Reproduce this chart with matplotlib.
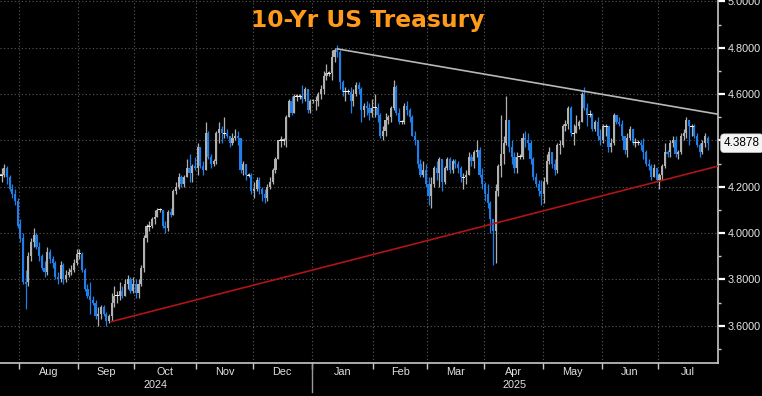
import numpy as np
import pandas as pd
import matplotlib
matplotlib.use("Agg")
import matplotlib.pyplot as plt
import matplotlib.transforms as mtransforms
from matplotlib.ticker import FixedLocator, FuncFormatter

# daily bars of the 10y yield, weekdays 23 Jul 2024 .. 25 Jul 2025 (one month per line)
opens = [
    4.25, 4.25, 4.28, 4.24, 4.19, 4.17, 4.14,
    4.04, 3.98, 3.79, 3.79, 3.90, 3.96, 3.99, 3.94, 3.90, 3.85, 3.83, 3.92, 3.89, 3.87, 3.81, 3.80, 3.86, 3.80, 3.82, 3.83, 3.84, 3.87,
    3.91, 3.91, 3.84, 3.76, 3.73, 3.71, 3.70, 3.64, 3.65, 3.68, 3.65, 3.62, 3.64, 3.70, 3.73, 3.73, 3.75, 3.73, 3.78, 3.80, 3.75,
    3.78, 3.74, 3.78, 3.85, 3.98, 4.03, 4.03, 4.06, 4.07, 4.10, 4.10, 4.03, 4.02, 4.09, 4.08, 4.18, 4.20, 4.24, 4.21, 4.24, 4.28, 4.26, 4.29,
    4.28, 4.37, 4.29, 4.27, 4.43, 4.33, 4.30, 4.31, 4.43, 4.45, 4.43, 4.43, 4.42, 4.39, 4.41, 4.42, 4.41, 4.27, 4.30, 4.25, 4.25,
    4.18, 4.19, 4.23, 4.19, 4.17, 4.15, 4.20, 4.22, 4.27, 4.32, 4.40, 4.40, 4.40, 4.50, 4.57, 4.52, 4.59, 4.59, 4.59, 4.58, 4.62, 4.53,
    4.57, 4.57, 4.57, 4.60, 4.62, 4.68, 4.69, 4.69, 4.76, 4.79, 4.78, 4.65, 4.61, 4.61, 4.61, 4.57, 4.60, 4.64, 4.62, 4.53, 4.55, 4.54, 4.52,
    4.54, 4.54, 4.51, 4.42, 4.44, 4.49, 4.50, 4.54, 4.63, 4.52, 4.48, 4.48, 4.55, 4.53, 4.50, 4.42, 4.40, 4.30, 4.25, 4.27,
    4.21, 4.16, 4.21, 4.28, 4.26, 4.32, 4.22, 4.28, 4.32, 4.27, 4.31, 4.30, 4.28, 4.24, 4.24, 4.25, 4.33, 4.31, 4.35, 4.36, 4.25,
    4.21, 4.17, 4.13, 4.06, 4.01, 4.18, 4.29, 4.34, 4.39, 4.49, 4.37, 4.33, 4.28, 4.33, 4.33, 4.41, 4.40, 4.39, 4.32, 4.24, 4.21, 4.18,
    4.17, 4.22, 4.31, 4.35, 4.30, 4.27, 4.38, 4.38, 4.46, 4.47, 4.54, 4.43, 4.43, 4.46, 4.48, 4.60, 4.54, 4.51, 4.51, 4.45, 4.48, 4.42,
    4.40, 4.46, 4.46, 4.37, 4.39, 4.51, 4.48, 4.47, 4.42, 4.36, 4.41, 4.45, 4.39, 4.39, 4.39, 4.38, 4.35, 4.30, 4.29, 4.24, 4.28,
    4.23, 4.25, 4.29, 4.35, 4.35, 4.39, 4.40, 4.34, 4.35, 4.42, 4.43, 4.49, 4.46, 4.46, 4.42, 4.38, 4.35, 4.39, 4.41,
]
highs = [
    4.28, 4.30, 4.29, 4.25, 4.21, 4.19, 4.15,
    4.06, 4.00, 3.84, 3.92, 3.98, 4.02, 4.00, 3.96, 3.91, 3.88, 3.94, 3.93, 3.90, 3.88, 3.83, 3.88, 3.87, 3.84, 3.85, 3.86, 3.89, 3.93,
    3.93, 3.92, 3.85, 3.78, 3.79, 3.73, 3.71, 3.68, 3.69, 3.69, 3.66, 3.65, 3.74, 3.77, 3.75, 3.79, 3.77, 3.80, 3.82, 3.81, 3.81,
    3.80, 3.80, 3.86, 3.99, 4.04, 4.05, 4.07, 4.10, 4.11, 4.11, 4.10, 4.05, 4.10, 4.11, 4.19, 4.22, 4.26, 4.25, 4.25, 4.32, 4.34, 4.30, 4.33,
    4.39, 4.37, 4.31, 4.48, 4.44, 4.34, 4.32, 4.44, 4.48, 4.46, 4.50, 4.45, 4.42, 4.43, 4.45, 4.44, 4.41, 4.31, 4.30, 4.26, 4.26,
    4.22, 4.24, 4.24, 4.20, 4.19, 4.21, 4.24, 4.28, 4.33, 4.40, 4.42, 4.41, 4.51, 4.58, 4.59, 4.60, 4.60, 4.60, 4.64, 4.63, 4.62, 4.58,
    4.58, 4.59, 4.61, 4.64, 4.70, 4.73, 4.70, 4.79, 4.80, 4.81, 4.79, 4.66, 4.63, 4.62, 4.63, 4.62, 4.65, 4.65, 4.63, 4.56, 4.57, 4.56, 4.58,
    4.60, 4.56, 4.52, 4.46, 4.52, 4.51, 4.55, 4.66, 4.64, 4.54, 4.49, 4.56, 4.57, 4.54, 4.51, 4.44, 4.40, 4.32, 4.31, 4.30,
    4.24, 4.24, 4.29, 4.31, 4.33, 4.32, 4.29, 4.33, 4.33, 4.32, 4.32, 4.31, 4.29, 4.26, 4.27, 4.35, 4.34, 4.36, 4.40, 4.37, 4.28,
    4.22, 4.21, 4.14, 4.06, 4.21, 4.30, 4.51, 4.42, 4.59, 4.49, 4.40, 4.35, 4.35, 4.34, 4.43, 4.44, 4.43, 4.40, 4.33, 4.26, 4.23, 4.23,
    4.24, 4.34, 4.37, 4.35, 4.32, 4.39, 4.40, 4.47, 4.49, 4.55, 4.55, 4.47, 4.51, 4.49, 4.61, 4.63, 4.56, 4.53, 4.52, 4.49, 4.50, 4.45,
    4.47, 4.47, 4.46, 4.41, 4.52, 4.51, 4.50, 4.49, 4.42, 4.43, 4.46, 4.45, 4.41, 4.40, 4.40, 4.41, 4.36, 4.32, 4.30, 4.30, 4.28,
    4.26, 4.30, 4.39, 4.36, 4.40, 4.42, 4.42, 4.36, 4.43, 4.45, 4.50, 4.49, 4.47, 4.47, 4.43, 4.39, 4.40, 4.43, 4.42,
]
lows = [
    4.22, 4.24, 4.21, 4.18, 4.15, 4.12, 4.02,
    3.96, 3.78, 3.67, 3.77, 3.88, 3.94, 3.93, 3.88, 3.84, 3.81, 3.82, 3.87, 3.85, 3.80, 3.78, 3.79, 3.78, 3.79, 3.81, 3.82, 3.83, 3.86,
    3.89, 3.83, 3.75, 3.72, 3.65, 3.69, 3.63, 3.60, 3.63, 3.64, 3.60, 3.61, 3.62, 3.68, 3.70, 3.71, 3.72, 3.73, 3.76, 3.74, 3.74,
    3.72, 3.72, 3.77, 3.83, 3.96, 4.01, 4.02, 4.04, 4.07, 4.09, 4.02, 4.00, 4.01, 4.07, 4.08, 4.17, 4.19, 4.20, 4.20, 4.24, 4.22, 4.22, 4.27,
    4.25, 4.28, 4.25, 4.27, 4.32, 4.28, 4.29, 4.30, 4.39, 4.39, 4.41, 4.41, 4.37, 4.38, 4.40, 4.38, 4.26, 4.25, 4.23, 4.24, 4.17,
    4.15, 4.18, 4.17, 4.14, 4.13, 4.14, 4.19, 4.21, 4.26, 4.32, 4.37, 4.38, 4.37, 4.50, 4.51, 4.52, 4.57, 4.58, 4.56, 4.57, 4.52, 4.52,
    4.56, 4.53, 4.55, 4.58, 4.60, 4.66, 4.68, 4.66, 4.74, 4.76, 4.62, 4.59, 4.57, 4.60, 4.52, 4.55, 4.59, 4.60, 4.48, 4.50, 4.51, 4.49, 4.50,
    4.50, 4.48, 4.41, 4.40, 4.42, 4.47, 4.48, 4.53, 4.51, 4.47, 4.47, 4.47, 4.51, 4.48, 4.42, 4.38, 4.28, 4.24, 4.24, 4.20,
    4.12, 4.11, 4.20, 4.23, 4.20, 4.18, 4.21, 4.27, 4.26, 4.26, 4.28, 4.26, 4.22, 4.19, 4.21, 4.25, 4.29, 4.28, 4.33, 4.24, 4.19,
    4.14, 4.11, 4.00, 3.86, 3.87, 4.16, 4.24, 4.30, 4.38, 4.35, 4.30, 4.26, 4.26, 4.32, 4.32, 4.37, 4.36, 4.30, 4.23, 4.20, 4.16, 4.12,
    4.13, 4.21, 4.30, 4.28, 4.25, 4.26, 4.34, 4.37, 4.44, 4.45, 4.42, 4.38, 4.43, 4.45, 4.48, 4.53, 4.46, 4.50, 4.44, 4.44, 4.40, 4.38,
    4.39, 4.42, 4.35, 4.35, 4.38, 4.47, 4.46, 4.40, 4.34, 4.33, 4.40, 4.38, 4.37, 4.38, 4.36, 4.32, 4.29, 4.27, 4.23, 4.24, 4.22,
    4.19, 4.23, 4.28, 4.33, 4.33, 4.37, 4.33, 4.32, 4.34, 4.40, 4.41, 4.38, 4.42, 4.41, 4.37, 4.33, 4.34, 4.37, 4.36,
]
closes = [
    4.25, 4.28, 4.24, 4.19, 4.17, 4.14, 4.03,
    3.98, 3.79, 3.78, 3.90, 3.96, 3.99, 3.94, 3.90, 3.85, 3.83, 3.92, 3.89, 3.87, 3.81, 3.80, 3.86, 3.80, 3.82, 3.83, 3.84, 3.87, 3.91,
    3.91, 3.84, 3.76, 3.73, 3.71, 3.70, 3.64, 3.65, 3.68, 3.65, 3.62, 3.64, 3.70, 3.73, 3.73, 3.75, 3.73, 3.78, 3.80, 3.75, 3.78,
    3.74, 3.78, 3.85, 3.98, 4.03, 4.03, 4.06, 4.07, 4.10, 4.10, 4.03, 4.02, 4.09, 4.08, 4.18, 4.20, 4.24, 4.21, 4.24, 4.28, 4.26, 4.29, 4.28,
    4.37, 4.29, 4.27, 4.43, 4.33, 4.30, 4.31, 4.43, 4.45, 4.43, 4.43, 4.42, 4.39, 4.41, 4.42, 4.41, 4.27, 4.30, 4.25, 4.25, 4.18,
    4.19, 4.23, 4.19, 4.17, 4.15, 4.20, 4.22, 4.27, 4.32, 4.40, 4.40, 4.40, 4.50, 4.57, 4.52, 4.59, 4.59, 4.59, 4.58, 4.62, 4.53, 4.57,
    4.57, 4.57, 4.60, 4.62, 4.68, 4.69, 4.69, 4.76, 4.79, 4.78, 4.65, 4.61, 4.61, 4.61, 4.57, 4.60, 4.64, 4.62, 4.53, 4.55, 4.54, 4.52, 4.54,
    4.54, 4.51, 4.42, 4.44, 4.49, 4.50, 4.54, 4.63, 4.52, 4.48, 4.48, 4.55, 4.53, 4.50, 4.42, 4.40, 4.30, 4.25, 4.27, 4.21,
    4.16, 4.21, 4.28, 4.26, 4.32, 4.22, 4.28, 4.32, 4.27, 4.31, 4.30, 4.28, 4.24, 4.24, 4.25, 4.33, 4.31, 4.35, 4.36, 4.25, 4.21,
    4.17, 4.13, 4.06, 4.01, 4.18, 4.29, 4.34, 4.39, 4.49, 4.37, 4.33, 4.28, 4.33, 4.33, 4.41, 4.40, 4.39, 4.32, 4.24, 4.21, 4.18, 4.17,
    4.22, 4.31, 4.35, 4.30, 4.27, 4.38, 4.38, 4.46, 4.47, 4.54, 4.43, 4.43, 4.46, 4.48, 4.60, 4.54, 4.51, 4.51, 4.45, 4.48, 4.42, 4.40,
    4.46, 4.46, 4.37, 4.39, 4.51, 4.48, 4.47, 4.42, 4.36, 4.41, 4.45, 4.39, 4.39, 4.39, 4.38, 4.35, 4.30, 4.29, 4.24, 4.28, 4.23,
    4.25, 4.29, 4.35, 4.34, 4.39, 4.40, 4.34, 4.35, 4.42, 4.43, 4.49, 4.46, 4.46, 4.42, 4.38, 4.35, 4.39, 4.42, 4.3878,
]

# trend lines: start (date, yield) and yield where they meet the right edge
resist_start = ("2025-01-14", 4.795)
resist_end = 4.513
support_start = ("2024-09-18", 3.618)
support_end = 4.289

title = "10-Yr US Treasury"
y_ticks = [3.6, 3.8, 4.0, 4.2, 4.4, 4.6, 4.8, 5.0]

dates = pd.bdate_range("2024-07-23", "2025-07-25")
assert len(dates) == len(opens) == len(highs) == len(lows) == len(closes)

o = np.array(opens); h = np.array(highs); l = np.array(lows); c = np.array(closes)
x = np.arange(len(dates))

W, H = 762, 396
fig = plt.figure(figsize=(W / 100, H / 100), dpi=100, facecolor="black")
ax = fig.add_axes([0, 1 - 363 / H, 718 / W, 363 / H], facecolor="black")

x_lo, x_hi = -0.58, 266.8
ax.set_xlim(x_lo, x_hi)
ax.set_ylim(3.439, 5.006)

up_col, dn_col = "#b0b0b0", "#1f7fe6"
up = c >= o
cols = np.where(up, up_col, dn_col)

# wicks then bodies
ax.vlines(x, np.minimum(l, np.minimum(o, c)), np.maximum(h, np.maximum(o, c)),
          colors=cols, lw=0.9, zorder=3)
body = np.maximum(np.abs(c - o), 0.004)
ax.bar(x, body, bottom=np.minimum(o, c), width=0.8, color=cols, lw=0, zorder=4)
doji = np.abs(c - o) < 0.002
ax.bar(x[doji], 0.004, bottom=c[doji] - 0.002, width=1.4, color="#f0f0f0", lw=0, zorder=5)

# trend lines
def idx(d):
    return dates.get_loc(pd.Timestamp(d))

ax.plot([idx(resist_start[0]), x_hi], [resist_start[1], resist_end], color="#b8b8b8", lw=1.2, zorder=6)
ax.plot([idx(support_start[0]), x_hi], [support_start[1], support_end], color="#b01414", lw=1.2, zorder=6)

# month boundaries
months = pd.Series(dates.to_period("M"))
starts = [i for i in range(1, len(dates)) if months[i] != months[i - 1]]
bounds = [s - 0.5 for s in starts]

for b in bounds:
    ax.axvline(b, color="#5a5a5a", lw=0.8, ls=(0, (1, 2.2)), zorder=1)
for v in y_ticks:
    ax.axhline(v, color="#5a5a5a", lw=0.8, ls=(0, (1, 2.2)), zorder=1)

for s in ["top", "left"]:
    ax.spines[s].set_visible(False)
for s in ["right", "bottom"]:
    ax.spines[s].set_color("#c8c8c8")
    ax.spines[s].set_linewidth(1.2)

ax.set_xticks(bounds)
ax.set_xticklabels([])
ax.tick_params(axis="x", length=4, width=1, color="#c8c8c8")

ax.yaxis.tick_right()
ax.yaxis.set_major_locator(FixedLocator(y_ticks))
ax.yaxis.set_minor_locator(FixedLocator([3.5, 3.7, 3.9, 4.1, 4.3, 4.5, 4.7, 4.9]))
ax.yaxis.set_major_formatter(FuncFormatter(lambda v, p: "" if abs(v - 4.4) < 1e-6 else f"{v:.4f}"))
ax.tick_params(axis="y", which="major", length=5, width=1.6, color="white", pad=2,
               labelsize=7.8, labelcolor="#e6e6e6")
ax.tick_params(axis="y", which="minor", length=2, width=1, color="#c8c8c8")
for t in ax.get_yticklabels():
    t.set_family("Liberation Sans")

# month and year labels
tr_x = mtransforms.blended_transform_factory(ax.transData, fig.transFigure)
edges = bounds + [x_hi]
for i, s in enumerate(starts):
    mid = (edges[i] + edges[i + 1]) / 2
    ax.text(mid, 1 - 375 / H, dates[s].strftime("%b"), transform=tr_x, ha="center",
            va="baseline", color="#e0e0e0", fontsize=7.8, family="Liberation Sans")

years = pd.Series(dates.year)
year_start = [i for i in range(1, len(dates)) if years[i] != years[i - 1]][0] - 0.5
for yr, lo_, hi_ in [(dates[0].year, x_lo, year_start), (dates[-1].year, year_start, x_hi)]:
    ax.text((lo_ + hi_) / 2, 1 - 388 / H, str(yr), transform=tr_x, ha="center",
            va="baseline", color="#e0e0e0", fontsize=7.8, family="Liberation Sans")
ax.plot([year_start, year_start], [1 - 363 / H, 1 - 392 / H], transform=tr_x,
        color="#9a9a9a", lw=1, clip_on=False)

# last value tag
tr_y = mtransforms.blended_transform_factory(fig.transFigure, ax.transData)
ax.text(724 / W, closes[-1], f"{closes[-1]:.4f}", transform=tr_y, ha="left", va="center",
        color="black", fontsize=8.5, family="Liberation Sans", zorder=10, clip_on=False,
        bbox=dict(boxstyle="round,pad=0.28,rounding_size=0.3", fc="#f4f4f4", ec="#cccccc", lw=0.5))

fig.text(368 / W, 1 - 27 / H, title, ha="center", va="baseline", color="#ff9a1a",
         fontsize=16.8, fontweight="bold", family="DejaVu Sans")

fig.savefig("out.png", dpi=100, facecolor="black")
